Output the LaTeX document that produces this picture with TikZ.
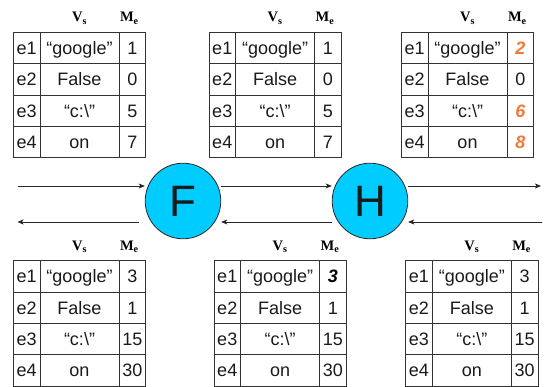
\documentclass[tikz,border=0pt]{standalone}
\usepackage{fontspec}
\setmainfont{Liberation Sans}
\newfontfamily\hdrfont{Liberation Serif}
\usetikzlibrary{matrix,arrows.meta}

\definecolor{cellink}{HTML}{1A1A1A}
\definecolor{gridline}{HTML}{333333}
\definecolor{hotval}{RGB}{241,122,56}
\definecolor{fnfill}{HTML}{00CCFF}

\tikzset{
  vtab/.style={matrix of nodes, inner sep=0pt, column sep=-0.8pt, row sep=-0.8pt,
    anchor=north west,
    nodes={draw=gridline, line width=0.8pt, minimum height=31.4pt, inner sep=0pt,
      text height=13.8pt, text depth=0.8pt,
      anchor=center, font=\fontsize{18}{18}\selectfont, text=cellink},
    column 1/.style={nodes={minimum width=26.7pt}},
    column 2/.style={nodes={minimum width=79pt}},
    column 3/.style={nodes={minimum width=26.7pt}}},
  hdr/.style={font=\hdrfont\bfseries\fontsize{14.5}{14.5}\selectfont, anchor=base, text=black},
  fn/.style={circle, draw=black!85, line width=0.8pt, fill=fnfill, minimum size=75.6pt,
    inner sep=0pt, font=\fontsize{44}{44}\selectfont, text=cellink},
  flow/.style={draw=black!85, line width=0.8pt, -{Stealth[length=6pt,width=5pt,inset=1.5pt]}},
  hotcell/.style={text=hotval, font=\bfseries\itshape\fontsize{18}{18}\selectfont},
  bicell/.style={text=black, font=\bfseries\itshape\fontsize{18}{18}\selectfont}
}

% column headings V_s and M_e above a table
\newcommand\tabheads[1]{%
  \node[hdr] (#1vs) at ([yshift=10pt]#1-1-2.north) {V\textsubscript{s}};
  \node[hdr] (#1me) at ([xshift=-3pt,yshift=10pt]#1-1-3.north) {M\textsubscript{e}};
}

\begin{document}
\begin{tikzpicture}[x=1pt,y=-1pt]
\useasboundingbox (0,0) rectangle (549,387);

% value tables before the functions
\matrix[vtab] (t1) at (12.7,31.7) {
  e1 & “google” & 1 \\
  e2 & False & 0 \\
  e3 & “c:\textbackslash” & 5 \\
  e4 & on & 7 \\
};
\matrix[vtab] (t2) at (208.3,31.7) {
  e1 & “google” & 1 \\
  e2 & False & 0 \\
  e3 & “c:\textbackslash” & 5 \\
  e4 & on & 7 \\
};
\matrix[vtab] (t3) at (400.7,31.7) {
  e1 & “google” & |[hotcell]| 2 \\
  e2 & False & 0 \\
  e3 & “c:\textbackslash” & |[hotcell]| 6 \\
  e4 & on & |[hotcell]| 8 \\
};

% value tables after the functions
\matrix[vtab] (b1) at (12.7,260) {
  e1 & “google” & 3 \\
  e2 & False & 1 \\
  e3 & “c:\textbackslash” & 15 \\
  e4 & on & 30 \\
};
\matrix[vtab] (b2) at (213.3,260) {
  e1 & “google” & |[bicell]| 3 \\
  e2 & False & 1 \\
  e3 & “c:\textbackslash” & 15 \\
  e4 & on & 30 \\
};
\matrix[vtab] (b3) at (405,260) {
  e1 & “google” & 3 \\
  e2 & False & 1 \\
  e3 & “c:\textbackslash” & 15 \\
  e4 & on & 30 \\
};

\tabheads{t1}\tabheads{t2}\tabheads{t3}
\tabheads{b1}\tabheads{b2}\tabheads{b3}

% functions
\node[fn] (F) at (183,201) {F};
\node[fn] (H) at (370,201) {H};

% forward and backward flows
\coordinate (inA) at (17.5,186);
\coordinate (outA) at (541,186);
\coordinate (inB) at (542,222);
\coordinate (outB) at (17.5,222);
\coordinate (fBack) at ([xshift=-6pt]F.west);

\draw[flow] (inA) -- (inA -| F.west);
\draw[flow] (F.east |- inA) -- (H.west |- inA);
\draw[flow] (H.east |- inA) -- (outA);
\draw[flow] (inB) -- (inB -| H.east);
\draw[flow] (H.west |- inB) -- (F.east |- inB);
\draw[flow] (fBack |- inB) -- (outB);
\end{tikzpicture}
\end{document}
